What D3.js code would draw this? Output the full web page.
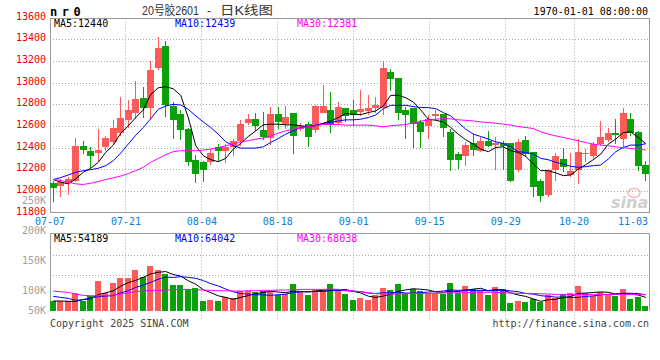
<!DOCTYPE html>
<html><head><meta charset="utf-8">
<script src="https://cdn.jsdelivr.net/npm/d3@7"></script>
<style>
body{margin:0;background:#fff}
svg{display:block}
text{font-family:"DejaVu Sans Mono",monospace;font-size:10px}
</style>
</head><body>
<svg id="c" width="660" height="360"></svg>
<script>
const dates=["07-07","07-08","07-09","07-10","07-11","07-14","07-15","07-16","07-17","07-18","07-21","07-22","07-23","07-24","07-25","07-28","07-29","07-30","07-31",
"08-01","08-04","08-05","08-06","08-07","08-08","08-11","08-12","08-13","08-14","08-15","08-18","08-19","08-20","08-21","08-22","08-25","08-26","08-27","08-28","08-29",
"09-01","09-02","09-03","09-04","09-05","09-08","09-09","09-10","09-11","09-12","09-15","09-16","09-17","09-18","09-19","09-22","09-23","09-24","09-25","09-26","09-29","09-30",
"10-09","10-10","10-13","10-14","10-15","10-16","10-17","10-20","10-21","10-22","10-23","10-24","10-27","10-28","10-29","10-30","10-31","11-03"];
const open=[12075,12048,12081,12094,12421,12375,12350,12406,12458,12543,12662,12727,12861,12773,13134,13339,12788,12718,12573,12292,
12268,12268,12408,12372,12405,12467,12629,12666,12567,12488,12715,12620,12721,12574,12623,12567,12727,12751,12629,12767,
12748,12730,12742,12770,12773,13100,13048,12751,12767,12641,12604,12696,12711,12549,12347,12329,12445,12375,12467,12427,
12445,12442,12197,12476,12359,12099,11970,12200,12298,12151,12197,12347,12323,12436,12476,12543,12482,12672,12549,12246];
const high=[12100,12115,12130,12488,12467,12405,12574,12510,12660,12874,12840,13018,12962,13202,13425,13384,12825,12751,12589,12335,
12283,12390,12436,12436,12482,12656,12711,12727,12733,12779,12782,12788,12721,12629,12641,12794,12980,12917,12825,12773,
12843,12935,12889,12871,13202,13131,13048,12782,12767,12660,12705,12751,12717,12573,12366,12451,12527,12497,12558,12506,
12467,12450,12482,12512,12365,12115,12206,12350,12399,12350,12482,12390,12451,12650,12589,12666,12773,12727,12558,12283];
const low=[11904,11947,11962,12090,12341,12213,12268,12375,12440,12513,12589,12672,12681,12671,13124,12690,12482,12476,12237,12075,
12084,12243,12277,12258,12323,12421,12610,12558,12476,12427,12580,12574,12344,12558,12405,12537,12724,12534,12611,12641,
12604,12696,12708,12727,12705,12925,12660,12482,12396,12396,12482,12660,12497,12188,12204,12237,12323,12360,12405,12197,
12197,12084,12180,12320,11946,11900,11946,12099,12182,12136,12069,12268,12298,12421,12451,12436,12405,12512,12191,12099];
const close=[12029,12084,12110,12421,12384,12323,12384,12494,12586,12678,12751,12849,12770,13119,13321,12794,12659,12567,12268,12161,
12197,12356,12375,12408,12467,12626,12672,12604,12497,12715,12641,12687,12513,12605,12506,12791,12791,12610,12779,12693,
12702,12761,12773,12794,13134,13039,12727,12708,12620,12549,12672,12717,12589,12292,12292,12430,12384,12467,12421,12445,
12420,12093,12457,12344,12038,11961,12200,12323,12222,12185,12366,12353,12433,12506,12543,12521,12724,12537,12231,12158];
const ma5=[12109,12084,12069,12115,12176,12213,12268,12360,12427,12537,12604,12681,12751,12895,12956,12965,12947,12886,12681,12421,
12329,12292,12274,12304,12390,12442,12506,12558,12614,12620,12620,12614,12614,12605,12598,12605,12629,12650,12681,12718,
12711,12708,12727,12742,12788,12886,12886,12864,12825,12751,12666,12656,12641,12589,12527,12476,12436,12390,12366,12405,
12411,12375,12359,12323,12252,12191,12191,12170,12145,12151,12206,12246,12292,12344,12436,12482,12543,12549,12497,12440];
const ma10=[12109,12127,12151,12176,12191,12200,12213,12237,12283,12353,12436,12518,12589,12671,12757,12788,12803,12797,12757,12696,
12641,12589,12528,12457,12421,12399,12399,12399,12411,12451,12488,12528,12558,12589,12598,12611,12626,12635,12650,12660,
12660,12666,12681,12705,12763,12794,12794,12794,12782,12773,12773,12763,12727,12696,12635,12574,12528,12506,12482,12457,
12442,12411,12366,12359,12344,12304,12292,12268,12252,12231,12222,12228,12237,12243,12298,12366,12405,12427,12427,12439];
const ma30=[12109,12100,12084,12069,12063,12075,12090,12109,12124,12142,12164,12191,12222,12268,12304,12338,12366,12375,12375,12375,
12381,12390,12405,12421,12436,12457,12467,12482,12491,12512,12537,12558,12574,12583,12598,12605,12617,12617,12617,12611,
12611,12611,12611,12605,12595,12605,12611,12617,12629,12647,12660,12666,12672,12669,12660,12656,12650,12641,12635,12629,
12620,12611,12598,12589,12580,12549,12528,12512,12497,12482,12467,12451,12436,12427,12421,12411,12402,12396,12390,12381];
const volumeK=[39.0,36.4,36.4,68.8,36.4,57.1,115.6,70.1,107.8,127.3,127.3,158.4,129.9,174.0,158.4,141.6,100.0,100.0,83.1,89.6,
37.7,41.6,37.7,53.2,50.6,76.6,76.6,74.0,77.9,74.0,61.0,63.6,103.9,74.0,61.0,80.5,80.5,103.9,84.4,64.9,
41.6,50.6,41.6,61.0,89.6,80.5,103.9,70.1,84.4,77.9,67.5,64.9,64.9,107.8,67.5,96.1,84.4,80.5,61.0,92.2,
84.4,29.9,37.7,33.8,45.5,35.1,61.0,48.1,63.6,68.8,96.1,67.5,58.4,74.0,63.6,57.1,84.4,45.5,54.5,18.2];
const volMa5K=[37.7,37.7,36.4,36.4,43.4,47.0,62.9,69.6,77.4,95.6,109.6,118.2,130.1,143.4,149.6,152.5,140.8,134.8,116.6,102.9,
82.1,70.4,57.9,52.0,44.2,51.9,58.9,66.2,71.1,75.8,72.7,70.1,76.1,75.3,72.7,76.6,80.0,80.0,82.1,82.8,
75.1,69.1,56.6,51.9,56.9,64.7,75.3,81.0,85.7,83.4,80.8,73.0,71.9,76.6,74.5,80.2,84.1,87.3,77.9,82.8,
80.5,69.6,61.0,55.6,46.3,36.4,42.6,44.7,50.7,55.3,67.5,68.8,70.9,73.0,71.9,64.1,67.5,64.9,61.0,51.9];
const volMa10K=[55.8,51.9,48.1,40.3,42.9,50.6,54.5,57.1,58.4,69.5,78.3,90.6,99.9,110.4,122.6,131.1,129.5,132.5,130.0,126.3,
117.3,105.6,96.4,84.3,73.6,67.0,64.7,62.1,61.6,60.0,62.3,64.5,71.2,73.2,74.3,74.7,75.1,78.1,78.7,77.8,
75.9,74.6,68.3,67.0,69.9,69.9,72.2,68.8,68.8,70.2,72.8,74.2,76.5,81.2,79.0,80.5,78.6,79.6,77.3,78.7,
80.4,76.9,74.2,66.8,64.6,58.5,56.1,52.9,53.2,50.8,52.0,55.7,57.8,61.9,63.6,65.8,68.2,67.9,67.0,61.9];
const volMa30K=[76.6,74.0,71.4,64.9,59.7,58.4,58.4,59.7,61.0,64.9,70.1,74.0,76.6,79.2,79.2,80.5,81.8,83.1,83.1,81.8,
80.5,79.2,77.9,77.9,76.6,76.6,77.9,77.9,79.2,79.2,80.5,80.5,81.8,83.1,83.1,83.1,83.1,84.4,83.1,79.2,
76.6,74.0,70.1,66.2,64.9,64.9,64.9,66.2,67.5,67.5,67.5,67.5,68.8,70.1,70.1,70.1,71.4,71.4,71.4,71.4,
70.1,68.8,67.5,67.5,67.5,66.2,64.9,63.6,63.6,63.6,63.6,63.6,63.6,63.6,63.6,63.6,63.6,63.6,63.0,62.3];
const priceTicks=[11800,12000,12200,12400,12600,12800,13000,13200,13400,13600];
const volTicksK=[50,100,150,200,250];
const dateTicks=["07-07","07-21","08-04","08-18","09-01","09-15","09-29","10-20","11-03"];
const priceMaLabels=["MA5:12440","MA10:12439","MA30:12381"];
const volMaLabels=["MA5:54189","MA10:64042","MA30:68038"];
const maColors=["#000000","#0000ff","#ff00ff"];
const titleParts=["20号胶2601","-","日K线图"];
const codeText="nr0";
const timeText="1970-01-01 08:00:00";
const copyText="Copyright 2025 SINA.COM";
const urlText="http://finance.sina.com.cn";

const svg=d3.select("#c");
svg.append("rect").attr("width",660).attr("height",360).attr("fill","#fff");
const RED="#ff5a5a", GREEN="#09a009", GRID="#aaaaaa", BORDER="#999999";
const L=50, Rgt=649.5, T=18.5, B=212.5, VT=233.5, VB=310.7;
const idx=d3.range(dates.length);
const xb=d3.scaleBand().domain(idx).range([49.5,649.5]);
const xc=i=>xb(i)+xb.bandwidth()/2;
const xg=d3.scaleLinear().domain([0,dates.length-1]).range([50,650]);
const y=d3.scaleLinear().domain([11800,13600]).range([213,18]);
const yv=d3.scaleLinear().domain([0,300]).range([VB,VB-77]);
const yvl=d3.scaleLinear().domain([100,250]).range([290.5,200.5]);

const g=svg.append("g");
priceTicks.slice(1,-1).forEach(v=>{
  const yy=Math.floor(y(v))+0.5;
  g.append("line").attr("x1",L).attr("x2",Rgt).attr("y1",yy).attr("y2",yy)
   .attr("stroke",GRID).attr("stroke-dasharray","1,2");
});
[255.5,275.5].forEach(yy=>{
  g.append("line").attr("x1",L).attr("x2",Rgt).attr("y1",yy).attr("y2",yy)
   .attr("stroke",GRID).attr("stroke-dasharray","1,2");
});
dateTicks.forEach(d=>{
  const i=dates.indexOf(d);
  if(i<=0||i>=dates.length-1) return;
  const xx=Math.floor(xg(i))+0.5;
  g.append("line").attr("x1",xx).attr("x2",xx).attr("y1",T).attr("y2",B)
   .attr("stroke",GRID).attr("stroke-dasharray","1,2");
  g.append("line").attr("x1",xx).attr("x2",xx).attr("y1",VT).attr("y2",320)
   .attr("stroke",GRID).attr("stroke-dasharray","1,2");
});
g.append("rect").attr("x",50.5).attr("y",T).attr("width",599).attr("height",B-T)
 .attr("fill","none").attr("stroke",BORDER);
g.append("path").attr("d",`M50.5,${VB}V${VT}H649.5V${VB}`).attr("fill","none").attr("stroke",BORDER);

const cg=svg.append("g");
idx.forEach(i=>{
  const up=close[i]>=open[i];
  const col=up?RED:GREEN;
  const cx=Math.floor(xc(i));
  const yh=Math.round(y(high[i])), yl=Math.round(y(low[i]));
  cg.append("rect").attr("x",cx).attr("y",yh).attr("width",1).attr("height",Math.max(1,yl-yh)).attr("fill",col);
  const yt=Math.round(y(Math.max(open[i],close[i]))), ybm=Math.round(y(Math.min(open[i],close[i])));
  cg.append("rect").attr("x",cx-3).attr("y",yt).attr("width",7).attr("height",Math.max(1,ybm-yt)).attr("fill",col);
  const vy=Math.round(yv(volumeK[i]));
  cg.append("rect").attr("x",cx-3).attr("y",vy).attr("width",6).attr("height",Math.round(VB)-vy).attr("fill",col);
});

const pl=d3.line().x((d,i)=>xc(i)).y(d=>y(d));
[ma5,ma10,ma30].forEach((arr,k)=>{
  svg.append("path").attr("d",pl(arr)).attr("fill","none").attr("stroke",maColors[k]).attr("stroke-width",1);
});
const vl=d3.line().x((d,i)=>xc(i)).y(d=>yv(d));
[volMa5K,volMa10K,volMa30K].forEach((arr,k)=>{
  svg.append("path").attr("d",vl(arr)).attr("fill","none").attr("stroke",maColors[k]).attr("stroke-width",1);
});

const tg=svg.append("g");
priceTicks.forEach(v=>{
  tg.append("text").attr("x",46).attr("y",Math.floor(y(v))+2).attr("text-anchor","end")
    .attr("fill","#ee0000").text(v);
});
volTicksK.forEach(v=>{
  tg.append("text").attr("x",46).attr("y",Math.min(yvl(v),310.5)+3.5).attr("text-anchor","end")
    .attr("fill","#a0a0a0").text(v+"K");
});
dateTicks.forEach(d=>{
  const i=dates.indexOf(d);
  const last=i===dates.length-1;
  tg.append("text").attr("x",last?648:xg(i)).attr("y",224.5)
    .attr("text-anchor",last?"end":"middle").attr("fill","#0a80d8").text(d);
});
const maX=[54,175,297];
priceMaLabels.forEach((t,k)=>{
  tg.append("text").attr("x",maX[k]).attr("y",27).attr("fill",maColors[k]).text(t);
});
volMaLabels.forEach((t,k)=>{
  tg.append("text").attr("x",maX[k]).attr("y",242).attr("fill",maColors[k]).text(t);
});
tg.append("text").attr("x",50).attr("y",15.5).attr("font-weight","bold").style("font-size","12px")
  .attr("letter-spacing","4.5px").attr("fill","#000").text(codeText);
const titleX=[142,207,220], titleW=[57,0,53];
titleParts.forEach((t,k)=>{
  const tt=tg.append("text").attr("x",titleX[k]).attr("y",15)
    .style("font-family","'Liberation Sans','Noto Sans CJK SC',sans-serif")
    .style("font-size","12px").attr("fill","#333").text(t);
  if(titleW[k]) tt.attr("textLength",titleW[k]).attr("lengthAdjust","spacingAndGlyphs");
});
tg.append("text").attr("x",648).attr("y",15).attr("text-anchor","end").attr("fill","#000").text(timeText);
tg.append("text").attr("x",50).attr("y",327).attr("fill","#444").text(copyText);
tg.append("text").attr("x",649).attr("y",327).attr("text-anchor","end").attr("fill","#444").text(urlText);
tg.append("text").attr("x",611).attr("y",208).style("font-family","'DejaVu Sans',sans-serif")
  .style("font-size","16px").style("font-style","italic").style("font-weight","bold")
  .attr("fill","#cfcfcf").text("sina");
tg.append("ellipse").attr("cx",634).attr("cy",193).attr("rx",6).attr("ry",4.5)
  .attr("fill","none").attr("stroke","#f2b8b8").attr("stroke-width",1.5);
</script>
</body></html>
